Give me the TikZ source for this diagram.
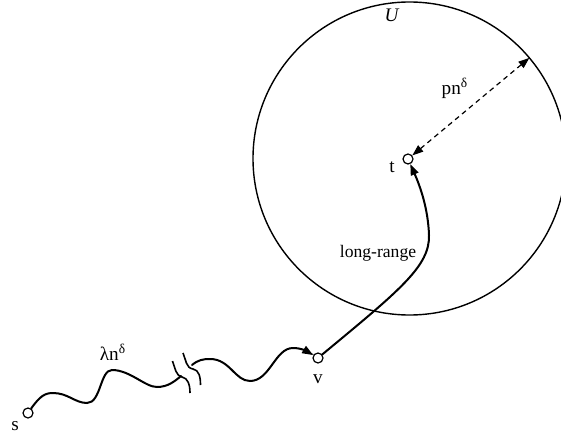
\documentclass[tikz,border=0pt]{standalone}
\usepackage{fontspec}
\setmainfont{Liberation Serif}
\usetikzlibrary{arrows.meta, shapes.geometric}

\begin{document}
\begin{tikzpicture}[x=0.5pt, y=-0.5pt,
    every node/.style={font=\fontsize{9.6}{11}\selectfont},
    vertex/.style={draw, circle, line width=0.6pt, inner sep=0pt, minimum size=5pt, fill=white},
    wave/.style={line width=1pt, line cap=round},
    tip/.style={-{Triangle[length=5.5pt, width=4pt]}}]
        \useasboundingbox (0,0) rectangle (561,438);

        % Region U
        \node[draw, circle, line width=0.7pt, inner sep=0pt, outer sep=0pt, minimum size=156.5pt] (U) at (409.5,158.5) {};
        \node (ulabel) at (392,15) {\textit{U}};

        % Vertices
        \node[vertex] (s) at (28,413) {};
        \node[vertex] (t) at (408,159) {};
        \node[vertex] (v) at (318,358) {};
        \node (slabel) at (15,426) {s};
        \node (tlabel) at (392,167) {t};
        \node (vlabel) at (318,379) {v};

        % Short-range walk with a break
        \coordinate (brkL) at (181,376);
        \coordinate (brkR) at (192,365);
        \draw[wave] (s) .. controls (40,396) and (45,393) .. (53,393)
            .. controls (68,393) and (75,403) .. (87,403)
            .. controls (101,403) and (100,370) .. (112,370)
            .. controls (130,370) and (145,387) .. (157,387)
            .. controls (168,387) and (175,381) .. (brkL);
        \draw[line width=0.8pt] (172.5,361) .. controls (175,368) and (176,376) .. (182,377)
            .. controls (188,378) and (190,385) .. (190,393);
        \draw[line width=0.8pt] (183,353) .. controls (186,360) and (186,368) .. (193,369)
            .. controls (199,370) and (200.5,377) .. (200.5,385);
        \draw[wave, tip] (brkR) .. controls (198,360) and (203,359) .. (210,359)
            .. controls (230,359) and (235,381) .. (250,381)
            .. controls (270,381) and (275,348) .. (293,348)
            .. controls (302,348) and (308,352) .. (v);
        \node (lambda) at (113,352) {λn\textsuperscript{δ}};

        % Long-range contact
        \draw[wave, tip] (v) .. controls (400,290) and (430,266) .. (429,235)
            .. controls (428,208) and (420,186) .. (t);
        \node[font=\fontsize{8.8}{10}\selectfont] (lr) at (378,253) {long-range};

        % Radius
        \draw[line width=0.6pt, dash pattern=on 2.5pt off 2pt,
            {Triangle[length=5.5pt, width=4pt]}-{Triangle[length=5.5pt, width=4pt]}] (t) -- (U.40.5);
        \node (rlabel) at (455,88) {pn\textsuperscript{δ}};
\end{tikzpicture}
\end{document}
